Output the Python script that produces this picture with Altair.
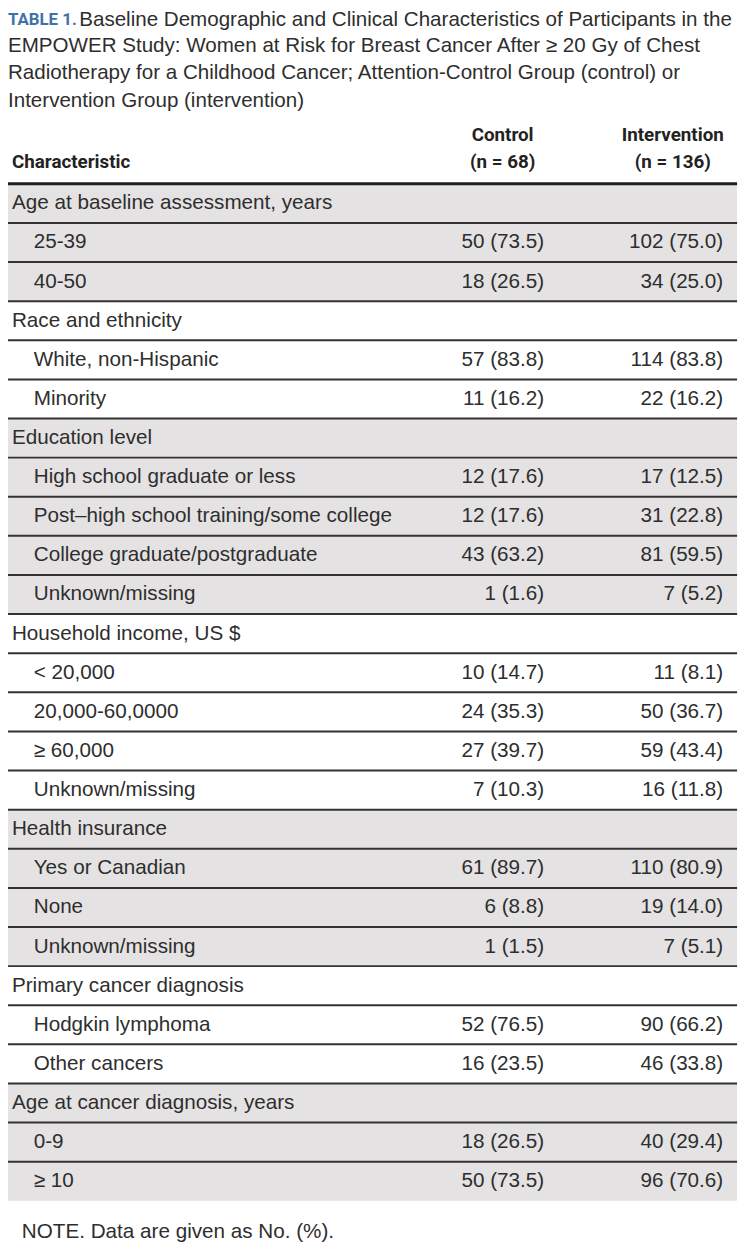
import altair as alt
import pandas as pd

# ---------------- data ----------------
table_label = "TABLE 1."
title_lines = [
    "Baseline Demographic and Clinical Characteristics of Participants in the",
    "EMPOWER Study: Women at Risk for Breast Cancer After \u2265 20 Gy of Chest",
    "Radiotherapy for a Childhood Cancer; Attention-Control Group (control) or",
    "Intervention Group (intervention)",
]
stub_header = "Characteristic"
col_head_1 = ["Control", "Intervention"]
col_head_2 = ["(n = 68)", "(n = 136)"]

groups = [
    "Age at baseline assessment, years",
    "Race and ethnicity",
    "Education level",
    "Household income, US $",
    "Health insurance",
    "Primary cancer diagnosis",
    "Age at cancer diagnosis, years",
]
items = [
    ["25-39", "40-50"],
    ["White, non-Hispanic", "Minority"],
    ["High school graduate or less", "Post\u2013high school training/some college",
     "College graduate/postgraduate", "Unknown/missing"],
    ["< 20,000", "20,000-60,0000", "\u2265 60,000", "Unknown/missing"],
    ["Yes or Canadian", "None", "Unknown/missing"],
    ["Hodgkin lymphoma", "Other cancers"],
    ["0-9", "\u2265 10"],
]
control = [
    ["50 (73.5)", "18 (26.5)"],
    ["57 (83.8)", "11 (16.2)"],
    ["12 (17.6)", "12 (17.6)", "43 (63.2)", "1 (1.6)"],
    ["10 (14.7)", "24 (35.3)", "27 (39.7)", "7 (10.3)"],
    ["61 (89.7)", "6 (8.8)", "1 (1.5)"],
    ["52 (76.5)", "16 (23.5)"],
    ["18 (26.5)", "50 (73.5)"],
]
intervention = [
    ["102 (75.0)", "34 (25.0)"],
    ["114 (83.8)", "22 (16.2)"],
    ["17 (12.5)", "31 (22.8)", "81 (59.5)", "7 (5.2)"],
    ["11 (8.1)", "50 (36.7)", "59 (43.4)", "16 (11.8)"],
    ["110 (80.9)", "19 (14.0)", "7 (5.1)"],
    ["90 (66.2)", "46 (33.8)"],
    ["40 (29.4)", "96 (70.6)"],
]
note = "NOTE. Data are given as No. (%)."

# ---------------- table structure ----------------
rows = []
r = 0
for gi, g in enumerate(groups):
    shade = "grey" if gi % 2 == 0 else "white"
    rows.append(dict(r=r, r1=r + 1, rm=r + 0.5, label=g, kind="group",
                     c="", i="", shade=shade))
    r += 1
    for lab, cv, iv in zip(items[gi], control[gi], intervention[gi]):
        rows.append(dict(r=r, r1=r + 1, rm=r + 0.5, label=lab, kind="item",
                         c=cv, i=iv, shade=shade))
        r += 1
n_rows = r
df = pd.DataFrame(rows)
thin_rules = pd.DataFrame({"b": list(range(1, n_rows))})
thick_rule = pd.DataFrame({"b": [0]})

# ---------------- layout ----------------
W, H = 744, 1240
ROW_H = 39.54
TABLE_TOP = 171.0  # plot-area px of header rule
d0 = -TABLE_TOP / ROW_H
d1 = d0 + H / ROW_H
yscale = alt.Scale(domain=[d0, d1], reverse=True, nice=False, zero=False)

FONT = "Liberation Sans"
BOLD_FONT = "Roboto"
TXT = "#2e2e2e"
GREY = "#e4e2e3"
LINE = "#333333"
FS = 20.9
RIGHT = 737

base = alt.Chart(df)

bg = base.transform_filter(alt.datum.shade == "grey").mark_rect(color=GREY).encode(
    x=alt.value(0), x2=alt.value(RIGHT),
    y=alt.Y("r:Q", scale=yscale, axis=None), y2="r1:Q",
)

lines_thin = alt.Chart(thin_rules).mark_rule(color=LINE, strokeWidth=2).encode(
    x=alt.value(0), x2=alt.value(RIGHT),
    y=alt.Y("b:Q", scale=yscale, axis=None),
)
lines_thick = alt.Chart(thick_rule).mark_rule(color="#1e1e1e", strokeWidth=3).encode(
    x=alt.value(0), x2=alt.value(RIGHT),
    y=alt.Y("b:Q", scale=yscale, axis=None),
)


def txt(**kw):
    d = dict(font=FONT, fontSize=FS, color=TXT, baseline="middle")
    d.update(kw)
    return d


grp_text = base.transform_filter(alt.datum.kind == "group").mark_text(**txt(align="left")).encode(
    x=alt.value(4), y=alt.Y("rm:Q", scale=yscale, axis=None), text="label:N")
item_text = base.transform_filter(alt.datum.kind == "item").mark_text(**txt(align="left")).encode(
    x=alt.value(26), y=alt.Y("rm:Q", scale=yscale, axis=None), text="label:N")
c_text = base.transform_filter(alt.datum.kind == "item").mark_text(**txt(align="right")).encode(
    x=alt.value(542), y=alt.Y("rm:Q", scale=yscale, axis=None), text="c:N")
i_text = base.transform_filter(alt.datum.kind == "item").mark_text(**txt(align="right")).encode(
    x=alt.value(723), y=alt.Y("rm:Q", scale=yscale, axis=None), text="i:N")

# title
title_df = pd.DataFrame({"t": title_lines, "k": list(range(len(title_lines)))})
title_layers = []
title_y = [5, 32, 59.5, 87]
for k, line in enumerate(title_lines):
    x0 = 72 if k == 0 else 0
    title_layers.append(
        alt.Chart(title_df[title_df.k == k]).mark_text(**txt(align="left", fontSize=20.8)).encode(
            x=alt.value(x0), y=alt.value(title_y[k]), text="t:N"))
lab_df = pd.DataFrame({"t": [table_label]})
title_layers.append(
    alt.Chart(lab_df).mark_text(**txt(align="left", font=BOLD_FONT, fontWeight="bold",
                                      color="#3f72a8", fontSize=17)).encode(
        x=alt.value(0), y=alt.value(title_y[0]), text="t:N"))

# headers
hdr_df = pd.DataFrame({"h1": col_head_1, "h2": col_head_2, "xc": [500, 672]})
HB = dict(fontWeight="bold", fontSize=19, font=BOLD_FONT, color="#222222")
hdr_layers = []
for j in range(2):
    sub = hdr_df.iloc[[j]]
    hx = int(hdr_df.xc[j])
    hdr_layers.append(alt.Chart(sub).mark_text(**txt(align="center", **HB)).encode(
        x=alt.value(hx), y=alt.value(122), text="h1:N"))
    hdr_layers.append(alt.Chart(sub).mark_text(**txt(align="center", **HB)).encode(
        x=alt.value(hx), y=alt.value(149), text="h2:N"))
stub_df = pd.DataFrame({"t": [stub_header]})
hdr_layers.append(alt.Chart(stub_df).mark_text(**txt(align="left", **HB)).encode(
    x=alt.value(4), y=alt.value(149), text="t:N"))

note_df = pd.DataFrame({"t": [note]})
note_layer = alt.Chart(note_df).mark_text(**txt(align="left")).encode(
    x=alt.value(14), y=alt.value(1231), text="t:N")

chart = alt.layer(bg, lines_thin, lines_thick, grp_text, item_text, c_text, i_text,
                  *title_layers, *hdr_layers, note_layer).properties(
    width=W, height=H, padding=0, autosize=alt.AutoSizeParams(type="none"),
).configure_view(stroke=None)

chart.save("out.html", embed_options={"renderer": "svg", "actions": False})
